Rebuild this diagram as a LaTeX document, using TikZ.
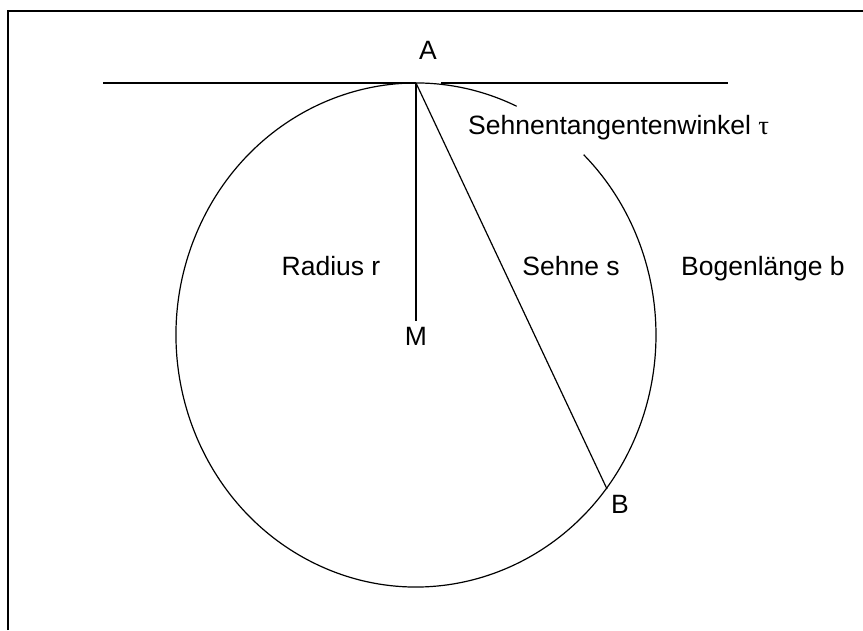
\documentclass[tikz,border=0pt]{standalone}
\usepackage{fontspec}
\setmainfont{Liberation Sans}
\newfontfamily\greekserif{Liberation Serif}
\begin{document}
\begin{tikzpicture}[x=1pt,y=1pt,
  lbl/.style={font=\fontsize{26.5}{30}\selectfont, inner sep=0pt, anchor=base},
  thinline/.style={line width=1.2pt},
  thickline/.style={line width=2pt}]
\useasboundingbox (0,0) rectangle (863,630);
% frame
\coordinate (F1) at (8,0);
\coordinate (F2) at (8,619);
\coordinate (F3) at (863,619);
\draw[thickline] (F1) -- (F2) -- (F3);
% geometry
\coordinate (M) at (416,295);
\coordinate (A) at (416,547);
\coordinate (B) at (607,141);
\coordinate (Tl) at (103,547);
\coordinate (Tr1) at (441,547);
\coordinate (Tr2) at (728,547);
\coordinate (Mend) at (416,309);
% tangent
\draw[thickline] (Tl) -- (A);
\draw[thickline] (Tr1) -- (Tr2);
% circle with gap
\draw[thinline] (M) ++(65.2:240pt and 252pt)
  arc[start angle=65.2, end angle=405.7, x radius=240pt, y radius=252pt];
% radius and chord
\draw[thinline] (A) -- (Mend);
\draw[thinline] (A) -- (B);
% labels
\node[lbl] (lA) at (428,570) {A};
\node[lbl, anchor=base west] (ltau) at (468,495) {Sehnentangentenwinkel {\greekserif τ}};
\node[lbl] (lr) at (331,354) {Radius r};
\node[lbl] (ls) at (571,354) {Sehne s};
\node[lbl] (lb) at (763,354) {Bogenlänge b};
\node[lbl] (lM) at (416,284) {M};
\node[lbl] (lB) at (620,116) {B};
\end{tikzpicture}
\end{document}
